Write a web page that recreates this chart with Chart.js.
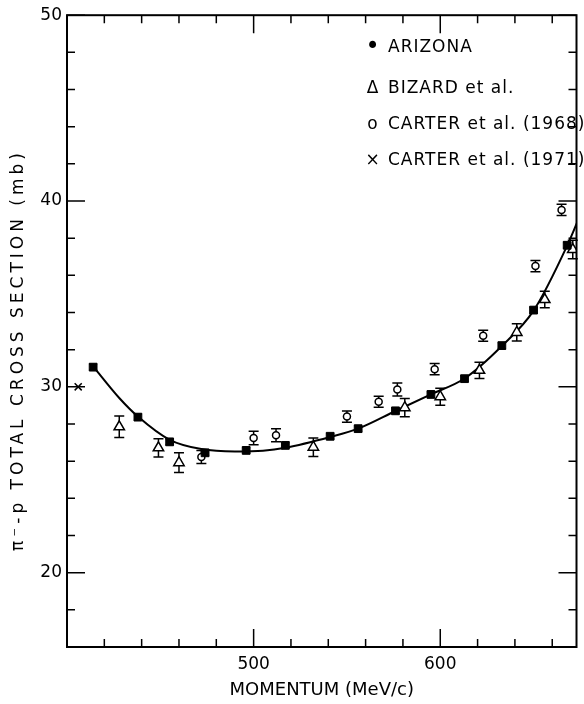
<!DOCTYPE html>
<html>
<head>
<meta charset="utf-8">
<script src="https://cdn.jsdelivr.net/npm/chart.js@4.4.1/dist/chart.umd.min.js"></script>
<style>
    html, body { margin: 0; padding: 0; background: #fff; }
    #wrap { width: 584px; height: 704px; }
</style>
</head>
<body>
<div id="wrap"><canvas id="chart" width="584" height="704"></canvas></div>
<script>
    // Momentum (MeV/c) and total cross section (mb)
    var arizonaX = [414, 438, 455, 474, 496, 517, 541, 556, 576, 595, 613, 633, 650, 668];
    var arizonaY = [31.06, 28.37, 27.04, 26.45, 26.58, 26.85, 27.34, 27.75, 28.71, 29.59, 30.44, 32.22, 34.13, 37.62];
    var arizonaErr = [0.15, 0.15, 0.15, 0.15, 0.15, 0.15, 0.15, 0.15, 0.15, 0.15, 0.15, 0.15, 0.15, 0.15];

    var bizardX = [428, 449, 460, 532, 581, 600, 621, 641, 656, 671];
    var bizardY = [27.85, 26.72, 25.92, 26.75, 28.88, 29.47, 30.89, 32.93, 34.7, 37.39];
    var bizardErr = [0.58, 0.49, 0.53, 0.5, 0.49, 0.46, 0.44, 0.46, 0.44, 0.5];

    var carter68X = [472, 500, 512, 550, 567, 577, 597, 623, 651, 665];
    var carter68Y = [26.22, 27.25, 27.39, 28.4, 29.2, 29.86, 30.95, 32.75, 36.5, 39.52];
    var carter68Err = [0.35, 0.36, 0.35, 0.3, 0.3, 0.35, 0.3, 0.3, 0.3, 0.3];

    var carter71X = [406];
    var carter71Y = [30.0];

    // fitted curve, traced point by point
    var fitX = [414, 428, 438, 455, 472, 490, 505, 517, 541, 556, 576, 595, 613, 633, 650, 668, 676];
    var fitY = [31.1, 29.4, 28.4, 27.15, 26.65, 26.52, 26.56, 26.72, 27.3, 27.75, 28.7, 29.6, 30.45, 32.2, 34.1, 37.6, 39.5];

    var xMajorTicks = [500, 600];
    var xMinorTicks = [420, 440, 460, 480, 520, 540, 560, 580, 620, 640, 660];
    var yMajorTicks = [20, 30, 40, 50];
    var yMinorTicks = [18, 22, 24, 26, 28, 32, 34, 36, 38, 42, 44, 46, 48];

    var legendNames = ["ARIZONA", "BIZARD et al.", "CARTER et al. (1968)", "CARTER et al. (1971)"];
    var legendSymbols = ["\u2022", "\u0394", "o", "\u00d7"];

    var yTitle = "\u03c0\u207b-p TOTAL CROSS SECTION (mb)";
    var xTitle = "MOMENTUM (MeV/c)";

    Chart.defaults.font.family = "'DejaVu Sans', sans-serif";
    Chart.defaults.color = "#000";

    function toPoints(xs, ys) {
        return xs.map(function (x, i) { return { x: x, y: ys[i] }; });
    }

    // error bars, drawn under the markers
    var errorBars = {
        id: "errorBars",
        beforeDatasetsDraw: function (chart) {
            var ctx = chart.ctx;
            var yScale = chart.scales.y;
            ctx.save();
            ctx.strokeStyle = "#000";
            ctx.lineWidth = 1.5;
            chart.data.datasets.forEach(function (ds, d) {
                if (!ds.errors) return;
                var meta = chart.getDatasetMeta(d);
                meta.data.forEach(function (pt, i) {
                    var v = ds.data[i].y;
                    var top = yScale.getPixelForValue(v + ds.errors[i]);
                    var bot = yScale.getPixelForValue(v - ds.errors[i]);
                    var cap = ds.capWidth;
                    ctx.beginPath();
                    ctx.moveTo(pt.x, top);
                    ctx.lineTo(pt.x, bot);
                    ctx.moveTo(pt.x - cap, top);
                    ctx.lineTo(pt.x + cap, top);
                    ctx.moveTo(pt.x - cap, bot);
                    ctx.lineTo(pt.x + cap, bot);
                    ctx.stroke();
                });
            });
            ctx.restore();
        }
    };

    // frame with inward ticks on all four sides, y title and legend text
    var frame = {
        id: "frame",
        afterDraw: function (chart) {
            var ctx = chart.ctx;
            var a = chart.chartArea;
            var xs = chart.scales.x;
            var ys = chart.scales.y;
            ctx.save();
            ctx.strokeStyle = "#000";
            ctx.lineWidth = 2;
            ctx.strokeRect(a.left, a.top, a.right - a.left, a.bottom - a.top);

            ctx.lineWidth = 1.5;
            ctx.beginPath();
            function xTick(v, len) {
                var px = xs.getPixelForValue(v);
                ctx.moveTo(px, a.bottom);
                ctx.lineTo(px, a.bottom - len);
                ctx.moveTo(px, a.top);
                ctx.lineTo(px, a.top + len);
            }
            function yTick(v, len) {
                var py = ys.getPixelForValue(v);
                ctx.moveTo(a.left, py);
                ctx.lineTo(a.left + len, py);
                ctx.moveTo(a.right, py);
                ctx.lineTo(a.right - len, py);
            }
            xMajorTicks.forEach(function (v) { xTick(v, 18); });
            xMinorTicks.forEach(function (v) { xTick(v, 8); });
            yMajorTicks.forEach(function (v) { yTick(v, 18); });
            yMinorTicks.forEach(function (v) { yTick(v, 8); });
            ctx.stroke();

            // y axis title
            ctx.fillStyle = "#000";
            ctx.font = "17px 'DejaVu Sans', sans-serif";
            ctx.letterSpacing = "4px";
            ctx.textAlign = "center";
            ctx.textBaseline = "middle";
            ctx.translate(19, 350);
            ctx.rotate(-Math.PI / 2);
            ctx.fillText(yTitle, 0, 0);
            ctx.setTransform(1, 0, 0, 1, 0, 0);

            // legend
            ctx.letterSpacing = "1px";
            var rows = [48, 89, 125, 161];
            legendNames.forEach(function (name, i) {
                ctx.textAlign = "center";
                ctx.font = (i === 0 ? "24px" : "17px") + " 'DejaVu Sans', sans-serif";
                ctx.fillText(legendSymbols[i], 373, rows[i]);
                ctx.textAlign = "left";
                ctx.font = "17px 'DejaVu Sans', sans-serif";
                ctx.fillText(name, 388, rows[i]);
            });
            ctx.restore();
        }
    };

    var ctx = document.getElementById("chart").getContext("2d");
    var myChart = new Chart(ctx, {
        type: "scatter",
        data: {
            datasets: [
                {
                    label: legendNames[0],
                    data: toPoints(arizonaX, arizonaY),
                    errors: arizonaErr,
                    capWidth: 4,
                    pointStyle: "rect",
                    pointRadius: 5.5,
                    backgroundColor: "#000",
                    borderColor: "#000",
                    borderWidth: 1,
                },
                {
                    label: legendNames[1],
                    data: toPoints(bizardX, bizardY),
                    errors: bizardErr,
                    capWidth: 5,
                    pointStyle: "triangle",
                    pointRadius: 6,
                    backgroundColor: "#fff",
                    borderColor: "#000",
                    borderWidth: 1.5,
                },
                {
                    label: legendNames[2],
                    data: toPoints(carter68X, carter68Y),
                    errors: carter68Err,
                    capWidth: 5,
                    pointStyle: "circle",
                    pointRadius: 3.5,
                    backgroundColor: "#fff",
                    borderColor: "#000",
                    borderWidth: 1.5,
                },
                {
                    label: legendNames[3],
                    data: toPoints(carter71X, carter71Y),
                    pointStyle: "crossRot",
                    pointRadius: 5,
                    borderColor: "#000",
                    borderWidth: 1.5,
                },
                {
                    label: "fit",
                    type: "line",
                    data: toPoints(fitX, fitY),
                    borderColor: "#000",
                    borderWidth: 2,
                    pointRadius: 0,
                    cubicInterpolationMode: "monotone",
                    fill: false,
                },
            ],
        },
        options: {
            responsive: false,
            animation: false,
            events: [],
            layout: {
                padding: { top: 10, right: 1, left: 0, bottom: 0 },
            },
            scales: {
                x: {
                    type: "linear",
                    min: 400,
                    max: 673,
                    afterFit: function (scale) { scale.height = 57; },
                    afterBuildTicks: function (scale) {
                        scale.ticks = xMajorTicks.map(function (v) { return { value: v }; });
                    },
                    grid: { display: false, drawTicks: false },
                    border: { display: false },
                    ticks: {
                        font: { size: 17 },
                        padding: 7,
                        maxRotation: 0,
                    },
                    title: {
                        display: true,
                        text: xTitle,
                        font: { size: 18 },
                        padding: { top: 0, bottom: 3 },
                    },
                },
                y: {
                    type: "linear",
                    min: 16,
                    max: 50,
                    afterFit: function (scale) { scale.width = 67; },
                    afterBuildTicks: function (scale) {
                        scale.ticks = yMajorTicks.map(function (v) { return { value: v }; });
                    },
                    grid: { display: false, drawTicks: false },
                    border: { display: false },
                    ticks: {
                        font: { size: 17 },
                        padding: 5,
                    },
                },
            },
            plugins: {
                legend: { display: false },
                tooltip: { enabled: false },
            },
        },
        plugins: [errorBars, frame],
    });
</script>
</body>
</html>
